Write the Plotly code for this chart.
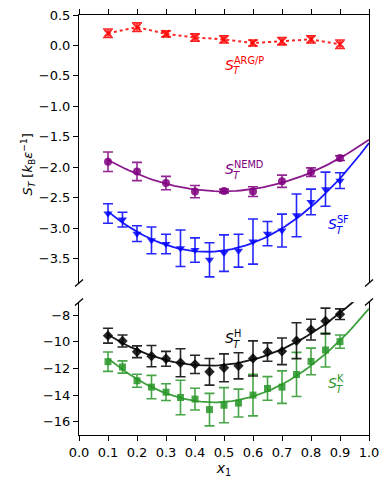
import numpy as np
import plotly.graph_objects as go
from plotly.subplots import make_subplots

# x grids
x_arg = [0.1, 0.2, 0.3, 0.4, 0.5, 0.6, 0.7, 0.8, 0.9]
x_fine = [0.10, 0.15, 0.20, 0.25, 0.30, 0.35, 0.40, 0.45, 0.50,
          0.55, 0.60, 0.65, 0.70, 0.75, 0.80, 0.85, 0.90]

# S_T^ARG/P
st_arg = [0.20, 0.30, 0.19, 0.13, 0.10, 0.04, 0.07, 0.10, 0.02]
err_arg = [0.07, 0.07, 0.05, 0.06, 0.06, 0.05, 0.06, 0.06, 0.07]

# S_T^NEMD
st_nemd = [-1.91, -2.07, -2.26, -2.40, -2.39, -2.40, -2.23, -2.08, -1.85]
err_nemd = [0.16, 0.15, 0.11, 0.10, 0.03, 0.08, 0.10, 0.07, 0.04]

# S_T^SF
st_sf = [-2.76, -2.86, -3.09, -3.20, -3.26, -3.33, -3.36, -3.52, -3.41,
         -3.37, -3.22, -3.09, -3.04, -2.79, -2.57, -2.36, -2.22]
err_sf = [0.16, 0.12, 0.13, 0.22, 0.16, 0.30, 0.20, 0.28, 0.30,
          0.27, 0.37, 0.20, 0.27, 0.35, 0.21, 0.28, 0.13]

# S_T^H
st_h = [-9.53, -9.93, -10.74, -11.07, -11.27, -11.57, -11.69, -12.25, -11.95,
        -11.80, -11.24, -10.76, -10.71, -9.91, -9.08, -8.43, -7.92]
err_h = [0.56, 0.45, 0.44, 0.80, 0.56, 1.05, 0.69, 1.00, 1.05,
         0.98, 1.32, 0.69, 1.00, 1.35, 0.78, 0.97, 0.40]

# S_T^K
st_k = [-11.49, -11.89, -12.92, -13.40, -13.78, -14.18, -14.30, -15.09, -14.76,
        -14.60, -14.00, -13.50, -13.40, -12.45, -11.47, -10.61, -9.98]
err_k = [0.73, 0.46, 0.49, 0.88, 0.63, 1.30, 0.82, 1.22, 1.32,
         1.05, 1.56, 0.89, 1.22, 1.66, 1.00, 1.28, 0.50]

x_ticks = [0.0, 0.1, 0.2, 0.3, 0.4, 0.5, 0.6, 0.7, 0.8, 0.9, 1.0]
y_ticks_top = [0.5, 0.0, -0.5, -1.0, -1.5, -2.0, -2.5, -3.0, -3.5]
y_ticks_bot = [-8, -10, -12, -14, -16]

FONT = 'DejaVu Sans'
RED = 'rgb(255,0,0)'
PURPLE = 'rgb(128,0,128)'
BLUE = 'rgb(0,0,255)'
BLACK = 'rgb(0,0,0)'
GREEN = 'rgb(40,150,40)'


def fade(c, a=0.85):
    return c.replace('rgb', 'rgba').replace(')', ',%s)' % a)


def fit_curve(x, y, err):
    # weighted quadratic fit of the data, drawn from 0.1 to 1.0
    p = np.polyfit(x, y, 2, w=1.0 / np.array(err))
    xs = np.linspace(0.1, 1.0, 60)
    return xs, np.polyval(p, xs)


fig = make_subplots(rows=2, cols=1, shared_xaxes=True)


def add_points(x, y, err, color, symbol, size, row, line=None):
    fig.add_trace(go.Scatter(
        x=x, y=y, mode='markers+lines' if line else 'markers',
        line=line if line else None,
        marker=dict(symbol=symbol, size=size, color=fade(color),
                    line=dict(width=0)),
        error_y=dict(type='data', array=err, color=fade(color),
                     thickness=1.6, width=5),
        showlegend=False), row=row, col=1)


def add_fit(x, y, err, color, row):
    xs, ys = fit_curve(x, y, err)
    fig.add_trace(go.Scatter(x=xs, y=ys, mode='lines',
                             line=dict(color=fade(color, 0.9), width=1.8),
                             showlegend=False), row=row, col=1)


# top panel
fig.add_hline(y=0, line=dict(color='rgb(40,40,40)', width=1), row=1, col=1)
add_points(x_arg, st_arg, err_arg, RED, 'x-thin-open', 7, 1,
           line=dict(color=fade(RED), width=2, dash='dot'))
fig.data[-1].marker.line = dict(width=2.2, color=fade(RED))
add_fit(x_fine, st_sf, err_sf, BLUE, 1)
add_points(x_fine, st_sf, err_sf, BLUE, 'triangle-down', 8, 1)
add_fit(x_arg, st_nemd, err_nemd, PURPLE, 1)
add_points(x_arg, st_nemd, err_nemd, PURPLE, 'circle', 8, 1)

# bottom panel
add_fit(x_fine, st_k, err_k, GREEN, 2)
add_points(x_fine, st_k, err_k, GREEN, 'square', 7, 2)
add_fit(x_fine, st_h, err_h, BLACK, 2)
add_points(x_fine, st_h, err_h, BLACK, 'diamond', 8, 2)


def label(x, y, sup, color, yref):
    fig.add_annotation(x=x, y=y, xref='x', yref=yref, xanchor='left',
                       yanchor='middle', showarrow=False,
                       text='<i>S</i><sup>%s</sup>' % sup,
                       font=dict(family=FONT, size=14, color=color))
    fig.add_annotation(x=x, y=y, xref='x', yref=yref, xanchor='left',
                       yanchor='middle', showarrow=False, xshift=8, yshift=-7,
                       text='<i>T</i>',
                       font=dict(family=FONT, size=10, color=color))


label(0.497, -0.30, 'ARG/P', RED, 'y')
label(0.497, -2.02, 'NEMD', PURPLE, 'y')
label(0.852, -2.92, 'SF', BLUE, 'y')
label(0.497, -9.65, 'H', BLACK, 'y2')
label(0.852, -13.05, 'K', GREEN, 'y2')

axis_common = dict(showgrid=False, zeroline=False, showline=True,
                   linecolor='black', linewidth=1.1, ticks='outside',
                   ticklen=5, tickwidth=1.1, tickcolor='black', automargin=False,
                   ticklabeloverflow='allow',
                   tickfont=dict(family=FONT, size=13, color='black'))

fig.update_xaxes(**axis_common, range=[0, 1], tickvals=x_ticks)
fig.update_xaxes(side='top', showticklabels=False, row=1, col=1)
fig.update_xaxes(tickformat='.1f', row=2, col=1,
                 title=dict(text='<i>x</i><sub>1</sub>', standoff=4,
                            font=dict(family=FONT, size=14, color='black')))
fig.update_yaxes(**axis_common, mirror=True)
fig.update_yaxes(range=[-3.9, 0.5], tickvals=y_ticks_top, tickformat='.1f',
                 domain=[0.362, 1.0], row=1, col=1)
fig.update_yaxes(range=[-17, -7], tickvals=y_ticks_bot,
                 domain=[0.0, 0.3167], row=2, col=1)
fig.update_layout(xaxis2=dict(anchor='y2'), xaxis=dict(anchor='y'))

# broken-axis marks
for xr, yr, ya in [('x domain', 'y domain', 0), ('x2 domain', 'y2 domain', 1)]:
    for xa in (0, 1):
        fig.add_shape(type='line', xref=xr, yref=yr, xsizemode='pixel',
                      ysizemode='pixel', xanchor=xa, yanchor=ya,
                      x0=-4, x1=4, y0=-3.5, y1=3.5,
                      line=dict(color='black', width=1.3))

fig.add_annotation(x=-0.215, y=0.643, xref='paper', yref='paper',
                   textangle=-90, showarrow=False,
                   text='<i>S</i><sub><i>T</i></sub> [<i>k</i><sub>B</sub><i>ε</i><sup>−1</sup>]',
                   font=dict(family=FONT, size=13, color='black'))

# page body adds an 8px offset, margins compensate for it
fig.update_layout(width=390, height=489, plot_bgcolor='white',
                  paper_bgcolor='white',
                  margin=dict(l=71, r=29, t=7, b=62),
                  font=dict(family=FONT, size=13, color='black'))

fig.write_html('out.html')
